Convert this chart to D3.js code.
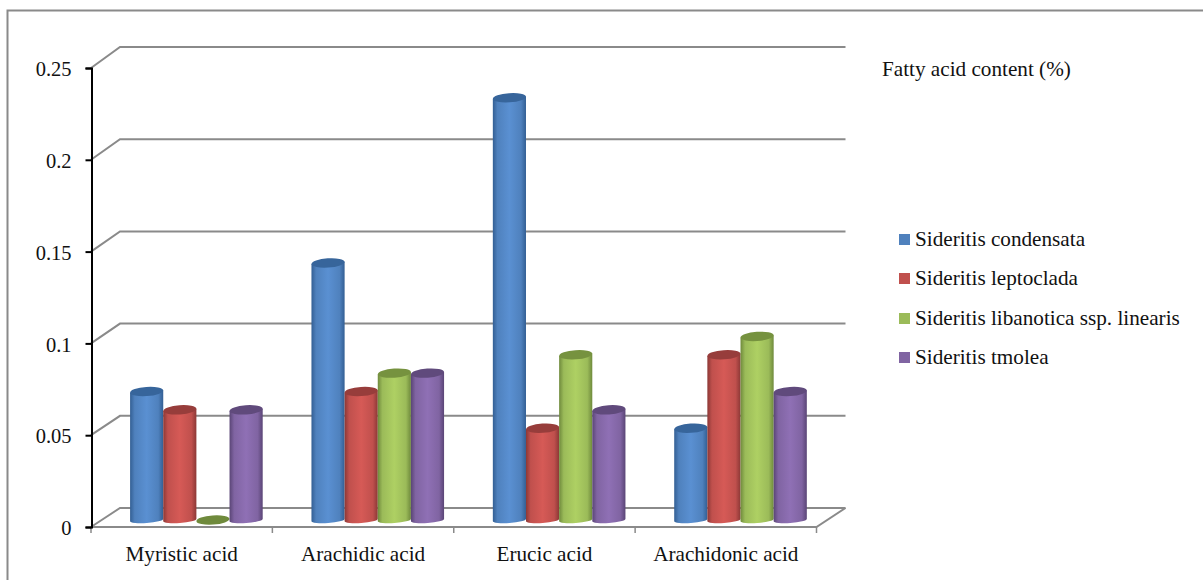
<!DOCTYPE html>
<html><head><meta charset="utf-8">
<script src="https://cdn.jsdelivr.net/npm/d3@7/dist/d3.min.js"></script>
<style>
html,body{margin:0;padding:0;background:#fff;overflow:hidden}
text{font-family:"Liberation Serif","Times New Roman",serif;fill:#111}
</style></head><body>
<svg id="c" width="1203" height="580"></svg>
<script>
const categories = ["Myristic acid","Arachidic acid","Erucic acid","Arachidonic acid"];
const seriesNames = ["Sideritis condensata","Sideritis leptoclada","Sideritis libanotica ssp. linearis","Sideritis tmolea"];
const condensata = [0.07,0.14,0.23,0.05];
const leptoclada = [0.06,0.07,0.05,0.09];
const libanotica = [0,0.08,0.09,0.10];
const tmolea = [0.06,0.08,0.06,0.07];
const yTicks = [0,0.05,0.1,0.15,0.2,0.25];
const seriesValues = [condensata,leptoclada,libanotica,tmolea];
const palette = [
 {base:"#4f81bd",edge:"#335f94",mid:"#5a90d2",top:"#37659b"},
 {base:"#c0504d",edge:"#8c3836",mid:"#d65a56",top:"#973d3b"},
 {base:"#9bbb59",edge:"#6f8a3c",mid:"#aed063",top:"#76923f"},
 {base:"#8064a2",edge:"#5a4576",mid:"#8f70b5",top:"#604a7c"}
];
const fontSize = 21.2;
const svg = d3.select("#c");
const x = d3.scaleBand().domain(categories).range([91,816.5]);
const inner = d3.scaleBand().domain(d3.range(4)).range([0,132.6]);
const y = d3.scaleLinear().domain([0,0.25]).range([527,68]);
const yBack = d3.scaleLinear().domain([0,0.25]).range([508,47]);
const dx = 29;                  // depth of the 3-D box
const barDx = 14.7, barDy = -7; // where the bars stand on the floor
const grey = "#8a8a8a";

svg.append("rect").attr("x",7.5).attr("y",10.5).attr("width",1300).attr("height",700)
  .attr("fill","#fff").attr("stroke",grey).attr("stroke-width",2);

const defs = svg.append("defs");
palette.forEach((p,i)=>{
  const g = defs.append("linearGradient").attr("id","g"+i);
  [[0,p.edge],[0.14,p.base],[0.5,p.mid],[0.85,p.base],[1,p.edge]].forEach(s=>
    g.append("stop").attr("offset",s[0]).attr("stop-color",s[1]));
});

// back wall + side wall
const xL = x.range()[0], xR = x.range()[1];
const walls = svg.append("g").attr("fill","none").attr("stroke",grey).attr("stroke-width",2);
yTicks.forEach(t=>{
  walls.append("path").attr("d",d3.line()([[xL,y(t)],[xL+dx,yBack(t)],[xR+dx,yBack(t)]]));
});
walls.append("path").attr("d",d3.line()([[xL,y(0)],[xR,y(0)],[xR+dx,yBack(0)]]));

// axes
const xAxis = d3.axisBottom(x).tickValues([]).tickSize(0);
const gx = svg.append("g").attr("transform",`translate(0,${y(0)})`).call(xAxis);
gx.select(".domain").remove();
[...categories.map(c=>x(c)),xR].forEach(v=>
  gx.append("line").attr("x1",v).attr("x2",v).attr("y1",0).attr("y2",6).attr("stroke",grey).attr("stroke-width",1.5));
categories.forEach(c=>
  gx.append("text").attr("x",x(c)+x.bandwidth()/2).attr("y",33.5).attr("text-anchor","middle")
    .attr("font-size",fontSize).text(c));

const yAxis = d3.axisLeft(y).tickValues(yTicks).tickSize(6).tickPadding(14)
  .tickFormat(d=>String(d));
const gy = svg.append("g").attr("transform",`translate(${xL+0.5},0)`).call(yAxis);
gy.select(".domain").attr("stroke","#000").attr("stroke-width",2);
gy.selectAll("line").attr("stroke","#000").attr("stroke-width",2);
gy.selectAll("text").attr("font-size",20.5).attr("font-family","Liberation Serif").attr("fill","#111").attr("dy","0.38em");

// cylinders
const bw = inner.bandwidth(), rx = bw/2, ryTop = 4.6, ryBottom = 3, tilt = -4;
const lift = rx*Math.sin(tilt*Math.PI/180);
categories.forEach((c,ci)=>{
  seriesValues.forEach((vals,si)=>{
    const v = vals[ci];
    const cx = x(c)+barDx+inner(si)+(x.bandwidth()-132.6)/2 + rx;
    const yb = y(0)+barDy, yt = y(v)+barDy;
    const g = svg.append("g");
    if(v>0){
      g.append("path").attr("fill",`url(#g${si})`).attr("d",
        `M${cx-rx},${yt-lift}L${cx-rx},${yb-lift}A${rx},${ryBottom} ${tilt} 0 0 ${cx+rx},${yb+lift}L${cx+rx},${yt+lift}Z`);
    }
    g.append("ellipse").attr("cx",cx).attr("cy",yt).attr("rx",rx).attr("ry",ryTop)
      .attr("transform",`rotate(${tilt} ${cx} ${yt})`).attr("fill",v>0?palette[si].top:palette[si].edge);
  });
});

// title and legend
svg.append("text").attr("x",882).attr("y",76).attr("font-size",fontSize).text("Fatty acid content (%)");
seriesNames.forEach((n,i)=>{
  const ly = [245,284,324,363][i];
  svg.append("rect").attr("x",899).attr("y",ly-11).attr("width",11).attr("height",11).attr("fill",palette[i].base);
  svg.append("text").attr("x",915).attr("y",ly+1).attr("font-size",fontSize).text(n);
});
</script></body></html>
